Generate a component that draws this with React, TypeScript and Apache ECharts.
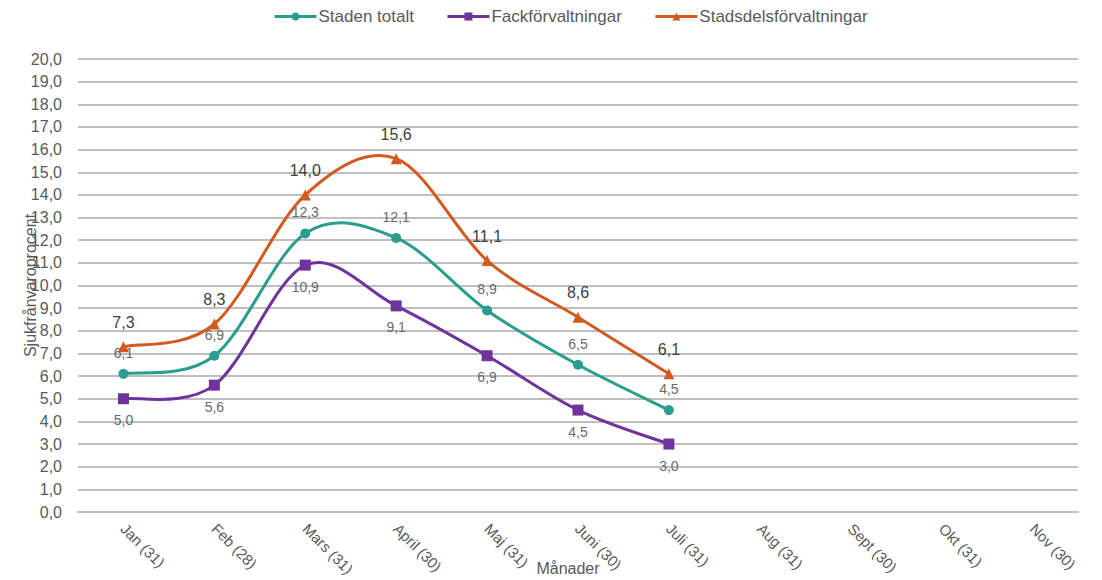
import React, { useEffect, useRef } from "react";
import * as echarts from "echarts";

const categories = [
  "Jan (31)", "Feb (28)", "Mars (31)", "April (30)", "Maj (31)", "Juni (30)",
  "Juli (31)", "Aug (31)", "Sept (30)", "Okt (31)", "Nov (30)",
];
const stadenTotalt = [6.1, 6.9, 12.3, 12.1, 8.9, 6.5, 4.5];
const fackforvaltningar = [5.0, 5.6, 10.9, 9.1, 6.9, 4.5, 3.0];
const stadsdelsforvaltningar = [7.3, 8.3, 14.0, 15.6, 11.1, 8.6, 6.1];

const TEAL = "#2A9D8F";
const PURPLE = "#6E339C";
const ORANGE = "#D35A1E";

const fmt = (v: number) => v.toFixed(1).replace(".", ",");

// Excel-like smoothed curve drawn through the chart's own coordinate system
function smoothCurve(name: string, values: number[], color: string) {
  return {
    name,
    type: "custom",
    coordinateSystem: "cartesian2d",
    silent: true,
    z: 1,
    data: values.map((v, i) => [i, v]),
    renderItem: (params: any, api: any) => {
      if (params.dataIndex !== 0) return null;
      const p = values.map((v, i) => api.coord([i, v]));
      const n = p.length;
      let d = `M${p[0][0]},${p[0][1]}`;
      for (let i = 0; i < n - 1; i++) {
        const p0 = p[Math.max(i - 1, 0)];
        const p1 = p[i];
        const p2 = p[i + 1];
        const p3 = p[Math.min(i + 2, n - 1)];
        const c1x = p1[0] + (p2[0] - p0[0]) / 6;
        const c1y = p1[1] + (p2[1] - p0[1]) / 6;
        const c2x = p2[0] - (p3[0] - p1[0]) / 6;
        const c2y = p2[1] - (p3[1] - p1[1]) / 6;
        d += ` C${c1x},${c1y} ${c2x},${c2y} ${p2[0]},${p2[1]}`;
      }
      return {
        type: "path",
        shape: { pathData: d },
        style: { fill: "none", stroke: color, lineWidth: 3 },
      };
    },
  };
}

export default function App() {
  const ref = useRef<HTMLDivElement>(null);
  useEffect(() => {
    document.body.style.margin = "0";
    const chart = echarts.init(ref.current!, undefined, { renderer: "svg" });
    const font = "Liberation Sans, Arial, sans-serif";
    const lbl = (pos: string, color: string, size: number, dist: number) => ({
      show: true,
      position: pos,
      distance: dist,
      color,
      fontSize: size,
      fontFamily: font,
      formatter: (p: any) => fmt(p.value),
    });
    const markers = (
      name: string,
      values: number[],
      color: string,
      symbol: string,
      size: number,
      label: any,
      z: number
    ) => ({
      name,
      type: "line",
      data: values,
      symbol,
      symbolSize: size,
      itemStyle: { color },
      lineStyle: { width: 3, color, opacity: 0 },
      label,
      z,
    });
    chart.setOption({
      animation: false,
      textStyle: { fontFamily: font },
      legend: {
        top: 3,
        left: 268,
        itemWidth: 42,
        itemHeight: 10,
        itemGap: 32,
        textStyle: { color: "#595959", fontSize: 17, fontFamily: font, padding: [0, 0, 0, -3] },
        data: [
          { name: "Staden totalt", lineStyle: { opacity: 1, color: TEAL, width: 3 } },
          { name: "Fackförvaltningar", lineStyle: { opacity: 1, color: PURPLE, width: 3 } },
          { name: "Stadsdelsförvaltningar", lineStyle: { opacity: 1, color: ORANGE, width: 3 } },
        ],
      },
      grid: { left: 78, right: 24, top: 59, bottom: 68, outerBoundsMode: "none", containLabel: false },
      xAxis: {
        type: "category",
        data: categories,
        boundaryGap: true,
        name: "Månader",
        nameLocation: "middle",
        nameGap: 48,
        nameMoveOverlap: false,
        nameTextStyle: { color: "#595959", fontSize: 16, fontFamily: font, padding: [0, 20, 0, 0] },
        axisLine: { show: true, lineStyle: { color: "#BFBFBF", width: 2 } },
        axisTick: { show: false },
        axisLabel: {
          rotate: -45,
          margin: 14,
          color: "#595959",
          fontSize: 15,
          fontFamily: font,
          interval: 0,
        },
      },
      yAxis: {
        type: "value",
        min: 0,
        max: 20,
        interval: 1,
        name: "Sjukfrånvaroprocent",
        nameLocation: "middle",
        nameGap: 40,
        nameMoveOverlap: false,
        nameTextStyle: { color: "#595959", fontSize: 16, fontFamily: font },
        axisLine: { show: false },
        axisTick: { show: false },
        axisLabel: {
          color: "#595959",
          fontSize: 16,
          fontFamily: font,
          margin: 16,
          formatter: (v: number) => fmt(v),
        },
        splitLine: { lineStyle: { color: "#BFBFBF", width: 2 } },
      },
      series: [
        smoothCurve("_c_staden", stadenTotalt, TEAL),
        smoothCurve("_c_fack", fackforvaltningar, PURPLE),
        smoothCurve("_c_stadsdel", stadsdelsforvaltningar, ORANGE),
        markers("Staden totalt", stadenTotalt, TEAL, "circle", 10, lbl("top", "#6A6A6A", 14, 9), 3),
        markers("Fackförvaltningar", fackforvaltningar, PURPLE, "rect", 11, lbl("bottom", "#6A6A6A", 14, 9), 2),
        markers("Stadsdelsförvaltningar", stadsdelsforvaltningar, ORANGE, "triangle", 11, lbl("top", "#404040", 16, 11), 4),
      ],
    });
    return () => chart.dispose();
  }, []);
  return <div ref={ref} style={{ width: 1102, height: 580 }} />;
}
